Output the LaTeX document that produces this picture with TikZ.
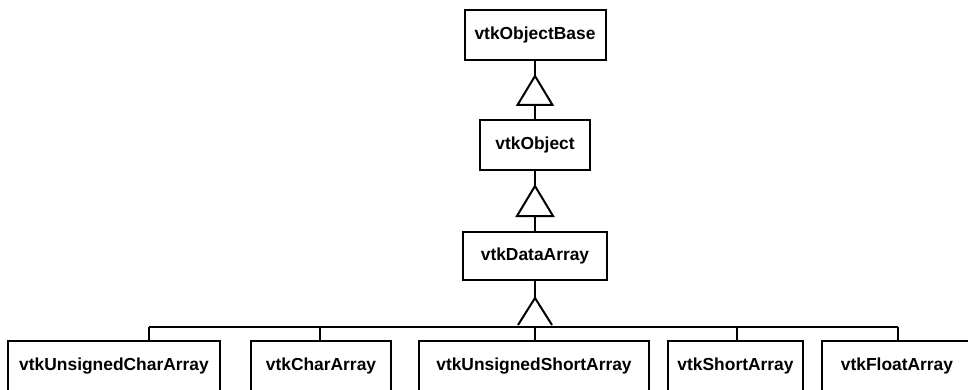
\documentclass[tikz,border=0pt]{standalone}
\usepackage{fontspec}
\setmainfont{Liberation Sans}
\usetikzlibrary{positioning, calc}

\begin{document}
\begin{tikzpicture}[x=0.5pt, y=-0.5pt, line width=1pt,
    classbox/.style={draw, inner sep=0pt, outer sep=0pt, align=center,
                     font=\fontsize{8.7}{10}\selectfont\bfseries},
    leafbox/.style={classbox, anchor=north, text height=14.5pt, text depth=20pt}]
    \useasboundingbox (0,0) rectangle (968,390);

    % upper chain
    \node[classbox, minimum width=70.5pt, minimum height=25pt] (base) at (535,35) {vtkObjectBase};
    \node[classbox, minimum width=55pt, minimum height=25pt] (obj) at (535,145) {vtkObject};
    \node[classbox, minimum width=72pt, minimum height=24pt] (data) at (535,256) {vtkDataArray};

    % concrete arrays
    \node[leafbox, minimum width=106pt] (uchar) at (114,341) {vtkUnsignedCharArray};
    \node[leafbox, minimum width=70pt] (char) at (321,341) {vtkCharArray};
    \node[leafbox, minimum width=115pt] (ushort) at (534,341) {vtkUnsignedShortArray};
    \node[leafbox, minimum width=67.5pt] (short) at (735.5,341) {vtkShortArray};
    \node[leafbox, minimum width=75pt] (float) at (897,341) {vtkFloatArray};

    % generalization arrows
    \draw (obj.north) -- (base.south);
    \coordinate (tipA) at (535,76);
    \draw[fill=white] (tipA) -- ++(-17.5,29) -- ++(35,0) -- cycle;

    \draw (data.north) -- (obj.south);
    \coordinate (tipB) at (535,186);
    \draw[fill=white] (tipB) -- ++(-18,30) -- ++(36,0) -- cycle;

    \coordinate (tipC) at (535,298);
    \draw (data.south) -- (tipC);
    \draw (tipC) ++(-17,27) -- (tipC) -- ++(17,27);

    % bus to the subclasses
    \coordinate (busL) at (149,327);
    \coordinate (busR) at (898,327);
    \draw (busL) -- (busR);
    \foreach \n/\x in {uchar/149, char/320, ushort/535, short/737, float/898} {
      \coordinate (drop-\n) at (\x,327);
      \draw (drop-\n) -- (drop-\n |- \n.north);
    }
\end{tikzpicture}
\end{document}
